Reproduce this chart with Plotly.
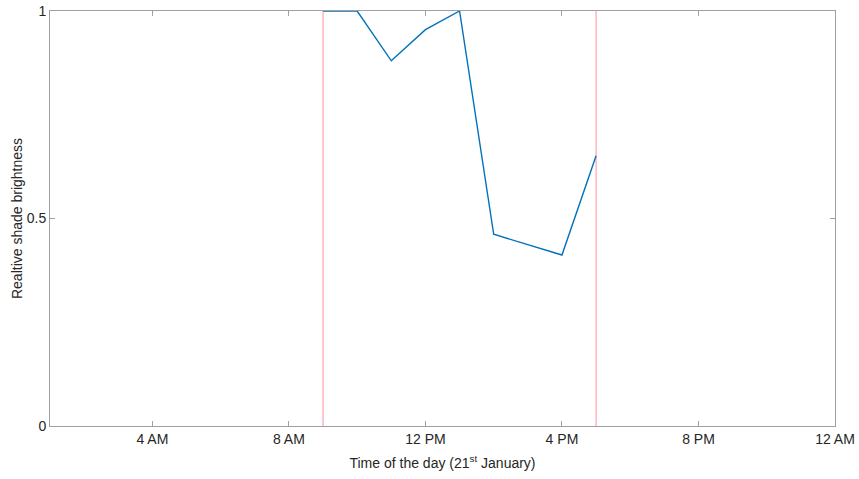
import plotly.graph_objects as go

# Hours of the day (24h clock) and measured relative brightness of the shade
hours = [9, 10, 11, 12, 13, 14, 16, 17]
brightness = [1.0, 1.0, 0.88, 0.955, 1.0, 0.462, 0.412, 0.651]

# Start and end of the daylight window
window_hours = [9, 17]

x_tick_vals = [4, 8, 12, 16, 20, 24]
x_tick_text = ["4 AM", "8 AM", "12 PM", "4 PM", "8 PM", "12 AM"]
y_tick_vals = [0, 0.5, 1]
y_tick_text = ["0", "0.5", "1"]

axis_color = "#a0a0a0"
text_color = "#262626"
font_family = "Liberation Sans, Arial, sans-serif"

fig = go.Figure()

for h in window_hours:
    fig.add_trace(go.Scatter(
        x=[h, h], y=[0, 1], mode="lines",
        line=dict(color="#ff9aa8", width=1.1),
        showlegend=False, hoverinfo="skip",
    ))

fig.add_trace(go.Scatter(
    x=hours, y=brightness, mode="lines",
    line=dict(color="#0072BD", width=1.4),
    showlegend=False, cliponaxis=False,
))

axis_common = dict(
    showgrid=False, zeroline=False, automargin=False,
    showline=True, linecolor=axis_color, linewidth=1,
    mirror="ticks", ticks="inside", ticklen=5, tickcolor=axis_color,
    tickfont=dict(family=font_family, size=14, color=text_color),
)

fig.update_xaxes(
    range=[1, 24], tickvals=x_tick_vals, ticktext=x_tick_text,
    title=dict(text="Time of the day (21<sup>st</sup> January)",
               font=dict(family=font_family, size=14, color=text_color),
               standoff=12),
    **axis_common,
)
fig.update_yaxes(
    range=[0, 1], tickvals=y_tick_vals, ticktext=y_tick_text,
    title=dict(text="Realtive shade brightness",
               font=dict(family=font_family, size=14, color=text_color),
               standoff=0),
    **axis_common,
)

fig.update_layout(
    width=859, height=479,
    margin=dict(l=50, r=24, t=11, b=53),
    plot_bgcolor="white", paper_bgcolor="white",
    showlegend=False,
)

fig.write_html("out.html")
